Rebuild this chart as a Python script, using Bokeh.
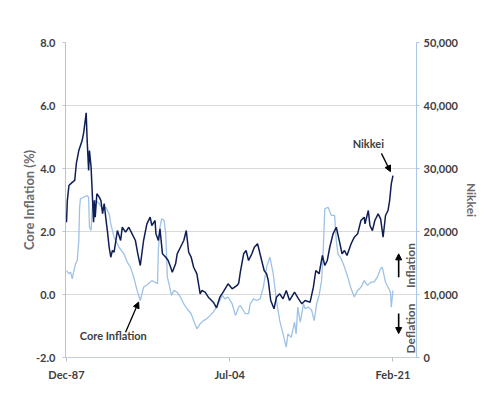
import math
import pandas as pd
from bokeh.plotting import figure
from bokeh.models import (Range1d, LinearAxis, FixedTicker, PrintfTickFormatter,
                          NumeralTickFormatter, DatetimeTickFormatter, Label, Arrow,
                          NormalHead, ColumnDataSource)
from bokeh.embed import file_html
from bokeh.resources import INLINE

# ---------------- data ----------------
nikkei_dates = [
    "1987-12", "1988-01", "1988-03", "1988-07", "1988-10", "1988-12", "1989-03", "1989-07",
    "1989-09", "1989-12", "1990-01", "1990-03", "1990-04", "1990-06", "1990-09", "1990-10",
    "1990-11", "1991-01", "1991-04", "1991-06", "1991-08", "1991-10", "1991-12", "1992-02",
    "1992-04", "1992-06", "1992-08", "1992-10", "1993-02", "1993-06", "1993-08", "1993-12",
    "1994-04", "1994-08", "1994-12", "1995-03", "1995-06", "1995-10", "1996-02", "1996-06",
    "1996-08", "1996-12", "1997-01", "1997-04", "1997-06", "1997-07", "1997-09", "1998-01",
    "1998-04", "1998-07", "1998-09", "1999-01", "1999-03", "1999-07", "1999-11", "2000-02",
    "2000-05", "2000-08", "2000-11", "2001-03", "2001-07", "2001-09", "2002-01", "2002-05",
    "2002-11", "2003-03", "2003-07", "2003-11", "2004-05", "2004-10", "2005-04", "2005-06",
    "2005-08", "2005-12", "2006-03", "2006-06", "2006-10", "2007-01", "2007-05", "2007-09",
    "2008-01", "2008-04", "2008-06", "2008-09", "2009-01", "2009-04", "2009-08", "2009-12",
    "2010-04", "2010-08", "2011-02", "2011-07", "2011-11", "2012-03", "2012-09", "2013-01",
    "2013-04", "2013-08", "2013-12", "2014-03", "2014-06", "2014-09", "2015-01", "2015-05",
    "2015-09", "2015-12", "2016-03", "2016-06", "2016-11", "2017-03", "2017-07", "2017-11",
    "2018-03", "2018-04", "2018-08", "2018-10", "2019-01", "2019-04", "2019-08", "2019-11",
    "2020-02", "2020-05", "2020-08", "2020-10", "2020-12", "2021-02",
]
nikkei_values = [
    21470, 24900, 27300, 27800, 28100, 30800, 32850, 34400,
    35750, 38830, 34960, 29680, 32850, 30200, 21470, 24900,
    22270, 26000, 25450, 24900, 22850, 24440, 22050, 19890,
    17500, 15920, 17000, 16710, 20150, 18570, 20680, 19890,
    20680, 19630, 18570, 16460, 14600, 18570, 21220, 22270,
    20950, 21740, 19630, 18570, 20420, 19100, 16460, 15920,
    15400, 14330, 13540, 14870, 16460, 17500, 18570, 20150,
    16710, 15920, 14330, 13280, 10110, 10630, 10370, 9570,
    8780, 7880, 9570, 10370, 11700, 10900, 11430, 11800,
    13600, 16460, 16980, 15400, 16460, 17500, 18050, 15920,
    13810, 13280, 12220, 9050, 7730, 9570, 10110, 9310,
    10630, 9050, 10370, 9310, 8520, 9050, 8780, 11160,
    13810, 13280, 16190, 14600, 15400, 17500, 19630, 20680,
    18300, 16460, 16980, 16190, 18050, 19100, 19630, 21740,
    22270, 21220, 23330, 20950, 20150, 21740, 22800, 22010,
    19100, 22540, 23330, 24920, 27560, 28880,
]

core_dates = [
    "1987-12", "1988-03", "1988-05", "1988-07", "1988-09", "1988-11", "1989-01", "1989-03",
    "1989-04", "1989-05", "1989-09", "1990-01", "1990-03", "1990-04", "1990-06", "1990-08",
    "1990-12", "1991-04", "1991-08", "1991-12", "1992-04", "1992-06", "1992-10", "1993-04",
    "1993-10", "1994-02", "1994-06", "1994-10", "1995-02", "1995-06", "1995-10", "1996-04",
    "1996-08", "1996-12", "1997-03", "1997-04", "1997-06", "1997-08", "1997-11", "1998-01",
    "1998-03", "1998-05", "1998-08", "1998-11", "1999-03", "1999-07", "1999-11", "2000-03",
    "2000-08", "2000-11", "2001-03", "2001-07", "2001-11", "2002-03", "2002-07", "2002-11",
    "2003-03", "2003-07", "2003-10", "2004-01", "2004-05", "2004-10", "2005-02", "2005-06",
    "2005-08", "2006-02", "2006-06", "2006-08", "2006-12", "2007-04", "2007-08", "2007-12",
    "2008-04", "2008-08", "2008-12", "2009-04", "2009-08", "2009-12", "2010-04", "2010-06",
    "2010-10", "2011-02", "2011-04", "2011-06", "2011-09", "2012-01", "2012-03", "2012-07",
    "2012-11", "2013-02", "2013-05", "2013-08", "2013-11", "2014-01", "2014-03", "2014-07",
    "2014-11", "2015-03", "2015-05", "2015-07", "2015-11", "2016-03", "2016-07", "2016-11",
    "2017-03", "2017-07", "2017-11", "2018-03", "2018-07", "2018-11", "2019-03", "2019-07",
    "2019-11", "2020-01", "2020-05", "2020-09", "2020-11", "2020-12", "2021-02",
]
core_values = [
    0.76, 0.66, 0.71, 0.50, 0.76, 0.97, 1.08, 1.71,
    2.77, 3.04, 3.09, 3.14, 3.09, 2.14, 2.03, 2.98,
    2.98, 2.88, 2.72, 2.77, 2.56, 2.24, 1.82, 1.50,
    1.29, 1.03, 0.87, 0.55, 0.13, -0.19, 0.23, 0.34,
    0.44, 0.39, 0.34, 1.40, 2.14, 2.40, 2.35, 1.93,
    0.55, 0.34, -0.03, 0.13, 0.07, -0.08, -0.30, -0.45,
    -0.61, -0.83, -1.09, -0.93, -0.83, -0.77, -0.67, -0.56,
    -0.40, -0.19, -0.03, -0.14, -0.08, -0.30, -0.67, -0.40,
    -0.35, -0.61, -0.61, -0.30, -0.14, -0.19, -0.14, 0.23,
    0.87, 1.19, 0.66, -0.19, -0.83, -1.25, -1.67, -1.25,
    -1.36, -0.88, -1.25, -0.40, -0.88, -0.30, -0.45, -0.40,
    -0.51, -0.83, -0.30, -0.03, 0.44, 1.40, 2.72, 2.77,
    2.51, 2.51, 1.71, 1.29, 1.13, 0.87, 0.55, 0.18,
    -0.08, 0.13, 0.23, 0.44, 0.29, 0.39, 0.39, 0.55,
    0.82, 0.87, 0.39, 0.18, 0.07, -0.40, 0.13,
]

left_ticks = [-2, 0, 2, 4, 6, 8]
right_ticks = [0, 10000, 20000, 30000, 40000, 50000]
x_tick_dates = ["1987-12", "2004-07", "2021-02"]


def ms(d):
    return pd.Timestamp(d).value / 1e6


FONT = "Lato"
TICK_COLOR = "#404040"
TITLE_COLOR = "#6b6b6b"
NAVY = "#0f1f55"
LIGHT = "#9ec2e6"
AXIS_BLUE = "#a9c6e6"

p = figure(width=481, height=388, output_backend="svg", toolbar_location=None,
           x_axis_type="datetime",
           x_range=Range1d(ms("1987-10-25"), ms("2023-06-25")),
           y_range=Range1d(-2, 8),
           min_border_left=65, min_border_right=55, min_border_top=42, min_border_bottom=31)
p.outline_line_color = None
p.background_fill_color = "white"
p.extra_y_ranges = {"nikkei": Range1d(0, 50000)}

# grid
p.xgrid.grid_line_color = None
p.ygrid.grid_line_color = "#d9d9d9"
p.ygrid.grid_line_width = 1
p.ygrid.ticker = FixedTicker(ticks=left_ticks)

# bottom axis
xa = p.xaxis[0]
xa.ticker = FixedTicker(ticks=[ms(d) for d in x_tick_dates])
fmt = "%b-%y"
xa.formatter = DatetimeTickFormatter(days=fmt, months=fmt, years=fmt, hours=fmt,
                                     minutes=fmt, seconds=fmt, milliseconds=fmt,
                                     microseconds=fmt, minsec=fmt, hourmin=fmt)
xa.axis_line_color = "#c5d0dc"
xa.major_tick_line_color = "#bfbfbf"
xa.major_tick_out = 4
xa.major_tick_in = 0
xa.minor_tick_line_color = None
xa.major_label_standoff = 6
xa.major_label_text_font = FONT
xa.major_label_text_font_style = "bold"
xa.major_label_text_font_size = "11px"
xa.major_label_text_color = TICK_COLOR

# left axis
ya = p.yaxis[0]
ya.ticker = FixedTicker(ticks=left_ticks)
ya.formatter = PrintfTickFormatter(format="%.1f")
ya.axis_line_color = AXIS_BLUE
ya.major_tick_line_color = AXIS_BLUE
ya.major_tick_out = 3
ya.major_tick_in = 0
ya.minor_tick_line_color = None
ya.major_label_standoff = 7
ya.major_label_text_font = FONT
ya.major_label_text_font_style = "bold"
ya.major_label_text_font_size = "11px"
ya.major_label_text_color = TICK_COLOR
ya.axis_label = "Core Inflation (%)"
ya.axis_label_text_font = FONT
ya.axis_label_text_font_style = "bold"
ya.axis_label_text_font_size = "13px"
ya.axis_label_text_color = TITLE_COLOR
ya.axis_label_standoff = -4

# right axis
ra = LinearAxis(y_range_name="nikkei", ticker=FixedTicker(ticks=right_ticks),
                formatter=NumeralTickFormatter(format="0,0"))
ra.axis_line_color = AXIS_BLUE
ra.major_tick_line_color = AXIS_BLUE
ra.major_tick_out = 3
ra.major_tick_in = 0
ra.minor_tick_line_color = None
ra.major_label_standoff = 4
ra.major_label_text_font = FONT
ra.major_label_text_font_style = "bold"
ra.major_label_text_font_size = "11px"
ra.major_label_text_color = TICK_COLOR
ra.axis_label = "Nikkei"
ra.axis_label_text_font = FONT
ra.axis_label_text_font_style = "bold"
ra.axis_label_text_font_size = "12px"
ra.axis_label_text_color = TITLE_COLOR
ra.axis_label_standoff = 3
try:
    ra.axis_label_orientation = "vertical"
except Exception:
    pass
p.add_layout(ra, "right")

# lines
core_src = ColumnDataSource(dict(x=pd.to_datetime(core_dates), y=core_values))
nik_src = ColumnDataSource(dict(x=pd.to_datetime(nikkei_dates), y=nikkei_values))
p.line("x", "y", source=core_src, line_color=LIGHT, line_width=1.3)
p.line("x", "y", source=nik_src, line_color=NAVY, line_width=1.5, y_range_name="nikkei")

# annotations
def lab(x, y, text, size="11px", angle=0.0, color=TICK_COLOR):
    p.add_layout(Label(x=x, y=y, text=text,
                       text_font=FONT, text_font_style="bold", text_font_size=size,
                       text_color=color, text_align="center", text_baseline="middle",
                       angle=angle))

lab(ms("2018-08-01"), 4.79, "Nikkei")
lab(ms("1992-09-01"), -1.30, "Core Inflation")
lab(ms("2022-11-01"), 0.92, "Inflation", size="12px", angle=math.pi / 2, color="#595959")
lab(ms("2022-11-01"), -1.08, "Deflation", size="12px", angle=math.pi / 2, color="#595959")


def arrow(x0, y0, x1, y1, w=1.3):
    p.add_layout(Arrow(end=NormalHead(size=6, fill_color="black", line_color="black"),
                       x_start=x0, y_start=y0, x_end=x1, y_end=y1,
                       line_color="black", line_width=w))

arrow(ms("2019-12-01"), 4.48, ms("2020-11-01"), 3.90)
arrow(ms("1993-12-01"), -1.20, ms("1995-04-01"), -0.24)
arrow(ms("2021-09-01"), 0.55, ms("2021-09-01"), 1.29, w=1.6)
arrow(ms("2021-09-01"), -0.60, ms("2021-09-01"), -1.24, w=1.6)

open("out.html", "w").write(file_html(p, INLINE))
